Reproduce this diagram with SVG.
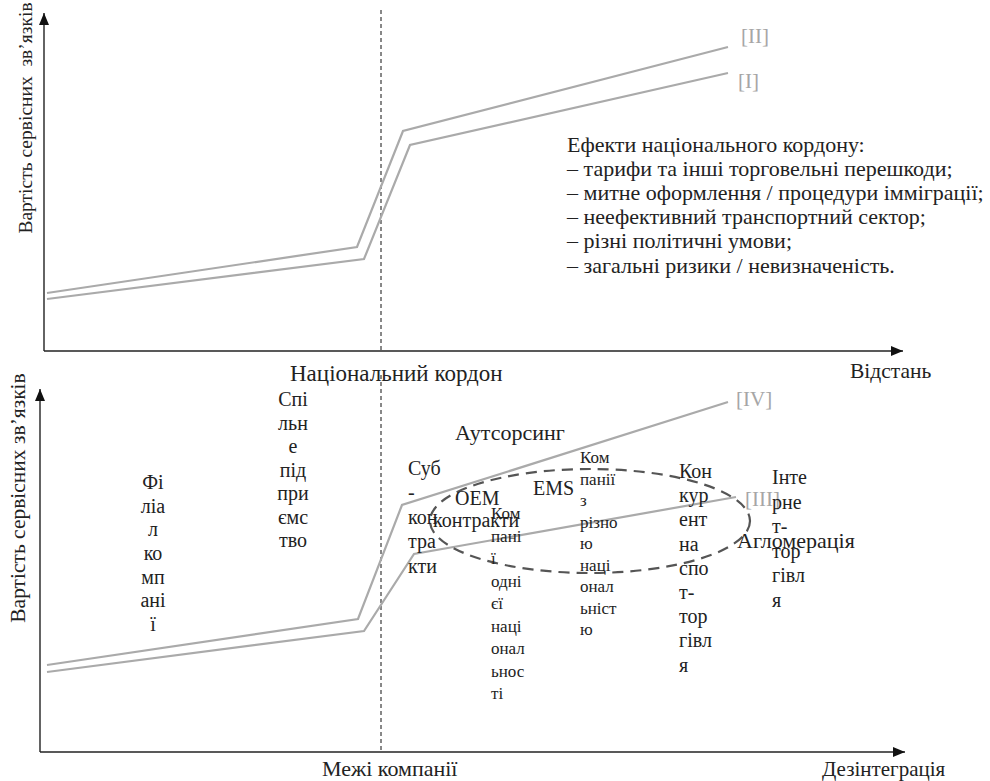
<svg xmlns="http://www.w3.org/2000/svg" width="990" height="781" viewBox="0 0 990 781">
<style>
text{font-family:"Liberation Serif","Times New Roman",serif;fill:#222}
.t22{font-size:22px}
.t20{font-size:20px}
.t17{font-size:17px}
.gl{fill:#a6a6a6;font-size:21px}
.ax{stroke:#222;stroke-width:1.4;fill:none}
.cv{stroke:#aaaaaa;stroke-width:2.2;fill:none}
.dv{stroke:#111;stroke-width:1;stroke-dasharray:4,3;fill:none}
.el{stroke:#555;stroke-width:2.2;stroke-dasharray:11,7;fill:none}
</style>
<defs>
<marker id="ah" viewBox="0 0 12 10" refX="12" refY="5" markerWidth="12" markerHeight="10" markerUnits="userSpaceOnUse" orient="auto">
<path d="M0,0L12,5L0,10z" fill="#111"/>
</marker>
</defs>
<rect width="990" height="781" fill="#fff"/>
<g id="connectors">
<line class="ax" x1="44" y1="351" x2="44" y2="13" marker-end="url(#ah)"/>
<line class="ax" x1="44" y1="351" x2="903" y2="351" marker-end="url(#ah)"/>
<line class="dv" x1="381" y1="10" x2="381" y2="350"/>
<polyline class="cv" points="47,293 357,247 403,131 728,47"/>
<polyline class="cv" points="47,299 364,259 410,145 728,73"/>
<line class="ax" x1="40" y1="752" x2="40" y2="389" marker-end="url(#ah)"/>
<line class="ax" x1="40" y1="752" x2="905" y2="752" marker-end="url(#ah)"/>
<line class="dv" x1="381" y1="375" x2="381" y2="750"/>
<polyline class="cv" points="47,665 358,619 402,505 728,402"/>
<polyline class="cv" points="47,672 364,631 414,554 736,497"/>
<ellipse class="el" cx="590" cy="521" rx="160" ry="52"/>
</g>
<g id="top-ylabel"><text font-size="19.5" transform="translate(32,118) rotate(-90)" text-anchor="middle" xml:space="preserve">Вартість сервісних  зв’язків</text></g>
<g id="label-II"><text class="gl" x="741" y="43">[II]</text></g>
<g id="label-I"><text class="gl" x="738" y="88">[I]</text></g>
<g id="effects">
<text class="t22" x="567" y="152">Ефекти національного кордону:</text>
<text class="t22" x="567" y="176">– тарифи та інші торговельні перешкоди;</text>
<text class="t22" x="567" y="200">– митне оформлення / процедури імміграції;</text>
<text class="t22" x="567" y="224">– неефективний транспортний сектор;</text>
<text class="t22" x="567" y="248">– різні політичні умови;</text>
<text class="t22" x="567" y="273">– загальні ризики / невизначеність.</text>
</g>
<g id="national-border"><text font-size="23" x="290" y="381">Національний кордон</text></g>
<g id="distance"><text font-size="21.5" x="850" y="378">Відстань</text></g>
<g id="bottom-ylabel"><text font-size="21.5" transform="translate(25,498) rotate(-90)" text-anchor="middle">Вартість сервісних зв’язків</text></g>
<g id="label-IV"><text class="gl" x="736" y="406">[IV]</text></g>
<g id="label-III"><text class="gl" x="745" y="506">[III]</text></g>
<g id="filiia" text-anchor="middle">
<text class="t20" x="153" y="489">Фі</text><text class="t20" x="153" y="513">ліа</text><text class="t20" x="153" y="536">л</text><text class="t20" x="153" y="560">ко</text><text class="t20" x="153" y="584">мп</text><text class="t20" x="153" y="607">ані</text><text class="t20" x="153" y="631">ї</text>
</g>
<g id="spilne" text-anchor="middle">
<text class="t20" x="293" y="406">Спі</text><text class="t20" x="293" y="430">льн</text><text class="t20" x="293" y="453">е</text><text class="t20" x="293" y="477">під</text><text class="t20" x="293" y="500">при</text><text class="t20" x="293" y="524">ємс</text><text class="t20" x="293" y="547">тво</text>
</g>
<g id="outsourcing"><text class="t22" x="455" y="440">Аутсорсинг</text></g>
<g id="subkontrakty">
<text class="t20" x="408" y="475">Суб</text><text class="t20" x="408" y="499">-</text><text class="t20" x="408" y="524">кон</text><text class="t20" x="408" y="548">тра</text><text class="t20" x="408" y="573">кти</text>
</g>
<g id="oem"><text class="t20" x="455" y="505">OEM</text><text class="t20" x="433" y="527">контракти</text></g>
<g id="ems"><text class="t20" x="533" y="495">EMS</text></g>
<g id="kompanii-odniei">
<text class="t17" x="491" y="519">Ком</text><text class="t17" x="491" y="542">пані</text><text class="t17" x="491" y="564">ї</text><text class="t17" x="491" y="587">одні</text><text class="t17" x="491" y="609">єї</text><text class="t17" x="491" y="632">наці</text><text class="t17" x="491" y="654">онал</text><text class="t17" x="491" y="677">ьнос</text><text class="t17" x="491" y="699">ті</text>
</g>
<g id="kompanii-riznoiu">
<text class="t17" x="580" y="463">Ком</text><text class="t17" x="580" y="485">панії</text><text class="t17" x="580" y="506">з</text><text class="t17" x="580" y="528">різно</text><text class="t17" x="580" y="549">ю</text><text class="t17" x="580" y="571">наці</text><text class="t17" x="580" y="592">онал</text><text class="t17" x="580" y="614">ьніст</text><text class="t17" x="580" y="635">ю</text>
</g>
<g id="konkurent">
<text class="t20" x="679" y="478">Кон</text><text class="t20" x="679" y="502">кур</text><text class="t20" x="679" y="526">ент</text><text class="t20" x="679" y="551">на</text><text class="t20" x="679" y="575">спо</text><text class="t20" x="679" y="599">т-</text><text class="t20" x="679" y="623">тор</text><text class="t20" x="679" y="647">гівл</text><text class="t20" x="679" y="672">я</text>
</g>
<g id="internet">
<text class="t20" x="772" y="484">Інте</text><text class="t20" x="772" y="509">рне</text><text class="t20" x="772" y="533">т-</text><text class="t20" x="772" y="558">тор</text><text class="t20" x="772" y="582">гівл</text><text class="t20" x="772" y="607">я</text>
</g>
<g id="agglomeration"><text class="t22" x="737" y="548">Агломерація</text></g>
<g id="firm-boundaries"><text class="t22" x="322" y="776">Межі компанії</text></g>
<g id="disintegration"><text font-size="21" x="822" y="776">Дезінтеграція</text></g>
</svg>
